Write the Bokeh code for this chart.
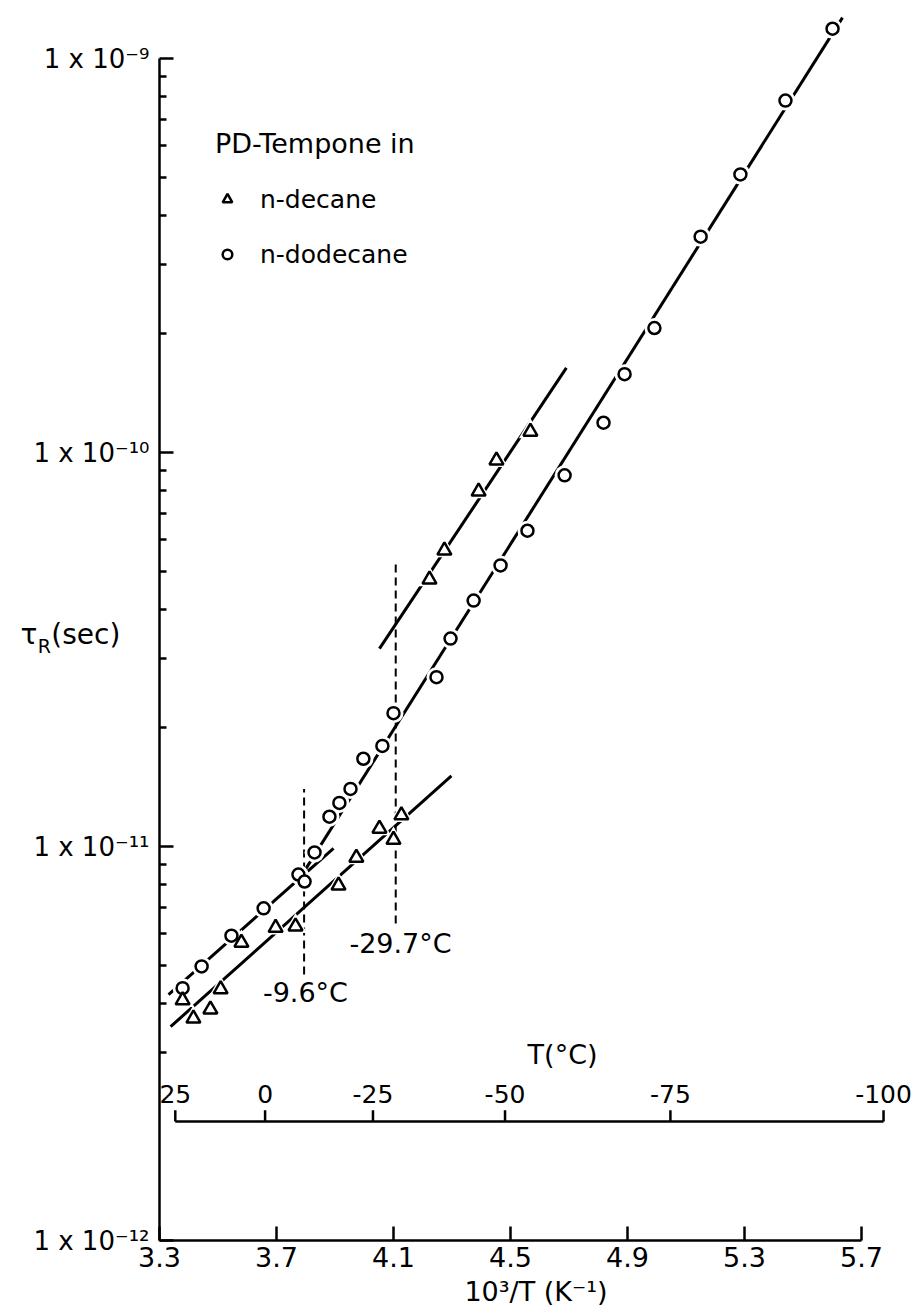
from bokeh.plotting import figure
from bokeh.models import Range1d, FixedTicker, CustomJSTickFormatter, Legend, LegendItem
from bokeh.core.properties import value
from bokeh.embed import file_html
from bokeh.resources import INLINE

FONT = "DejaVu Sans"

# ---- data: x = 10^3/T (K^-1), y = tau_R (s) ----
dodecane_x = [3.379, 3.444, 3.546, 3.656, 3.775, 3.796, 3.830, 3.881, 3.915, 3.953,
              3.997, 4.062, 4.100, 4.247, 4.295, 4.374, 4.466, 4.558, 4.685, 4.818,
              4.890, 4.992, 5.150, 5.286, 5.440, 5.601]
dodecane_tau = [4.37e-12, 4.96e-12, 5.94e-12, 6.97e-12, 8.49e-12, 8.15e-12, 9.66e-12,
                1.19e-11, 1.29e-11, 1.40e-11, 1.67e-11, 1.80e-11, 2.18e-11, 2.69e-11,
                3.37e-11, 4.21e-11, 5.17e-11, 6.33e-11, 8.75e-11, 1.19e-10, 1.58e-10,
                2.07e-10, 3.53e-10, 5.08e-10, 7.82e-10, 1.19e-9]

decane_x = [3.379, 3.416, 3.474, 3.509, 3.580, 3.697, 3.765, 3.912, 3.973, 4.052,
            4.100, 4.127, 4.223, 4.274, 4.391, 4.452, 4.568]
decane_tau = [4.07e-12, 3.66e-12, 3.86e-12, 4.34e-12, 5.70e-12, 6.22e-12, 6.27e-12,
              7.96e-12, 9.37e-12, 1.11e-11, 1.04e-11, 1.20e-11, 4.76e-11, 5.64e-11,
              7.96e-11, 9.55e-11, 1.13e-10]

# straight-line fits drawn in the figure (end points)
fit_decane_low_x = [3.338, 4.298]
fit_decane_low_tau = [3.49e-12, 1.51e-11]
fit_decane_high_x = [4.052, 4.691]
fit_decane_high_tau = [3.18e-11, 1.64e-10]
fit_dodecane_low_x = [3.331, 3.895]
fit_dodecane_low_tau = [4.21e-12, 9.89e-12]
fit_dodecane_high_x = [3.799, 5.635]
fit_dodecane_high_tau = [8.75e-12, 1.27e-9]

# phase transition temperatures (deg C) and the tau span of their dashed markers
transition_C = [-9.6, -29.7]
transition_labels = ["-9.6°C", "-29.7°C"]
transition_top_tau = [1.40e-11, 5.28e-11]
transition_bottom_tau = [4.73e-12, 6.38e-12]

# axes ticks
x_ticks = [3.3, 3.7, 4.1, 4.5, 4.9, 5.3, 5.7]
x_tick_labels = ["3.3", "3.7", "4.1", "4.5", "4.9", "5.3", "5.7"]
y_ticks = [1e-12, 1e-11, 1e-10, 1e-9]
y_tick_labels = ["1 x 10⁻¹²", "1 x 10⁻¹¹", "1 x 10⁻¹⁰", "1 x 10⁻⁹"]
y_minor_mantissa = [2, 3, 4, 5, 6, 7, 8, 9]
celsius_ticks = [25, 0, -25, -50, -75, -100]
celsius_tick_labels = ["25", "0", "-25", "-50", "-75", "-100"]

# ---- layout ----
W, H = 912, 1316
LEFT, RIGHT, TOP, BOTTOM = 159, 0, 5, 76
PX_PER_X = 292.5
PX_PER_DECADE = 394.0
x_end = 3.3 + (W - LEFT - RIGHT) / PX_PER_X
y_end = 10 ** (-12 + (H - TOP - BOTTOM) / PX_PER_DECADE)

p = figure(width=W, height=H, x_range=Range1d(3.3, x_end), y_range=Range1d(1e-12, y_end),
           y_axis_type="log", output_backend="svg", toolbar_location=None,
           min_border_left=LEFT, min_border_right=RIGHT, min_border_top=TOP,
           min_border_bottom=BOTTOM)
p.outline_line_color = None
p.grid.visible = False
p.background_fill_color = "white"
p.border_fill_color = "white"

# x axis
xa = p.xaxis[0]
xa.bounds = (3.3, 5.7)
xa.ticker = FixedTicker(ticks=x_ticks, minor_ticks=[])
xa.formatter = CustomJSTickFormatter(args=dict(vals=x_ticks, labs=x_tick_labels), code="""
for (let i = 0; i < vals.length; i++) { if (Math.abs(tick - vals[i]) < 1e-6) return labs[i]; }
return "";""")
xa.axis_label = "10³/T (K⁻¹)"
xa.axis_label_text_font = FONT
xa.axis_label_text_font_size = "27px"
xa.axis_label_text_font_style = "normal"
xa.axis_label_text_color = "black"
xa.axis_label_standoff = 6
xa.major_label_text_font = FONT
xa.major_label_text_font_size = "27px"
xa.major_label_standoff = 6
xa.major_tick_in = 14
xa.major_tick_out = 0
xa.minor_tick_line_color = None

# y axis
ya = p.yaxis[0]
ya.bounds = (1e-12, 1e-9)
y_minor = [m * d for d in y_ticks[:-1] for m in y_minor_mantissa if not (d == 1e-12 and m == 2)]
ya.ticker = FixedTicker(ticks=y_ticks, minor_ticks=y_minor)
ya.formatter = CustomJSTickFormatter(args=dict(vals=y_ticks, labs=y_tick_labels), code="""
for (let i = 0; i < vals.length; i++) { if (Math.abs(Math.log10(tick) - Math.log10(vals[i])) < 1e-6) return labs[i]; }
return "";""")
ya.major_label_text_font = FONT
ya.major_label_text_font_size = "26px"
ya.major_label_standoff = 10
ya.major_tick_in = 14
ya.major_tick_out = 0
ya.minor_tick_in = 7
ya.minor_tick_out = 0

for ax in (xa, ya):
    ax.axis_line_width = 2.5
    ax.major_tick_line_width = 2.5
    ax.minor_tick_line_width = 2.5
    ax.axis_line_color = "black"
    ax.major_tick_line_color = "black"
    ax.major_label_text_color = "black"
ya.minor_tick_line_color = "black"

# fitted lines
for fx, fy in [(fit_decane_low_x, fit_decane_low_tau), (fit_decane_high_x, fit_decane_high_tau),
               (fit_dodecane_low_x, fit_dodecane_low_tau), (fit_dodecane_high_x, fit_dodecane_high_tau)]:
    p.line(fx, fy, line_color="black", line_width=3)

# dashed transition markers
tr_x = [1000.0 / (t + 273.15) for t in transition_C]
p.segment(x0=tr_x, x1=tr_x, y0=transition_bottom_tau, y1=transition_top_tau,
          line_color="black", line_width=2, line_dash="8 5")

# white halos to break lines around markers
p.scatter(dodecane_x, dodecane_tau, marker="circle", size=20, fill_color="white", line_color=None)
p.scatter(decane_x, decane_tau, marker="triangle", size=23, fill_color="white", line_color=None)

r_dod = p.scatter(dodecane_x, dodecane_tau, marker="circle", size=12, fill_color="white",
                  line_color="black", line_width=2.5)
r_dec = p.scatter(decane_x, decane_tau, marker="triangle", size=14, fill_color="white",
                  line_color="black", line_width=2.5)

# transition labels
p.text(x=[3.799, 4.124], y=[4.26e-12, 5.68e-12], text=transition_labels,
       text_font=value(FONT), text_font_size="27px", text_align="center",
       text_baseline="middle", text_color="black")

# secondary temperature axis (deg C) drawn inside the plot
T_AXIS_Y = 2.004e-12
T_TICK_TOP = 2.14e-12
T_LABEL_Y = 2.36e-12
tc_x = [1000.0 / (t + 273.15) for t in celsius_ticks]
p.segment(x0=tc_x[0], x1=tc_x[-1], y0=T_AXIS_Y, y1=T_AXIS_Y, line_color="black", line_width=2.5)
p.segment(x0=tc_x, x1=tc_x, y0=[T_AXIS_Y] * len(tc_x), y1=[T_TICK_TOP] * len(tc_x),
          line_color="black", line_width=2.5)
p.text(x=tc_x, y=[T_LABEL_Y] * len(tc_x), text=celsius_tick_labels, text_font=value(FONT),
       text_font_size="25px", text_align="center", text_baseline="middle", text_color="black")
p.text(x=[4.678], y=[2.96e-12], text=["T(°C)"], text_font=value(FONT), text_font_size="27px",
       text_align="center", text_baseline="middle", text_color="black")

# y axis title (horizontal, with subscript), drawn on the overlay level
r1 = p.text(x=[2.825, 2.930], y=[3.45e-11, 3.45e-11], text=["τ", "(sec)"], text_font=value(FONT),
            text_font_size="28px", text_align="left", text_baseline="middle", text_color="black")
r2 = p.text(x=[2.884], y=[3.22e-11], text=["R"], text_font=value(FONT), text_font_size="19px",
            text_align="left", text_baseline="middle", text_color="black")
r1.level = "overlay"
r2.level = "overlay"

# legend
legend = Legend(items=[LegendItem(label="n-decane", renderers=[r_dec]),
                       LegendItem(label="n-dodecane", renderers=[r_dod])],
                title="PD-Tempone in", location=(56, 971), padding=0, margin=0,
                border_line_color=None, background_fill_alpha=0,
                glyph_width=24, glyph_height=24, label_height=30, spacing=25,
                label_standoff=21, title_standoff=25,
                label_text_font=FONT, label_text_font_size="25px", label_text_color="black",
                title_text_font=FONT, title_text_font_size="27px", title_text_font_style="normal",
                title_text_color="black")
p.add_layout(legend)

open("out.html", "w").write(file_html(p, INLINE))
